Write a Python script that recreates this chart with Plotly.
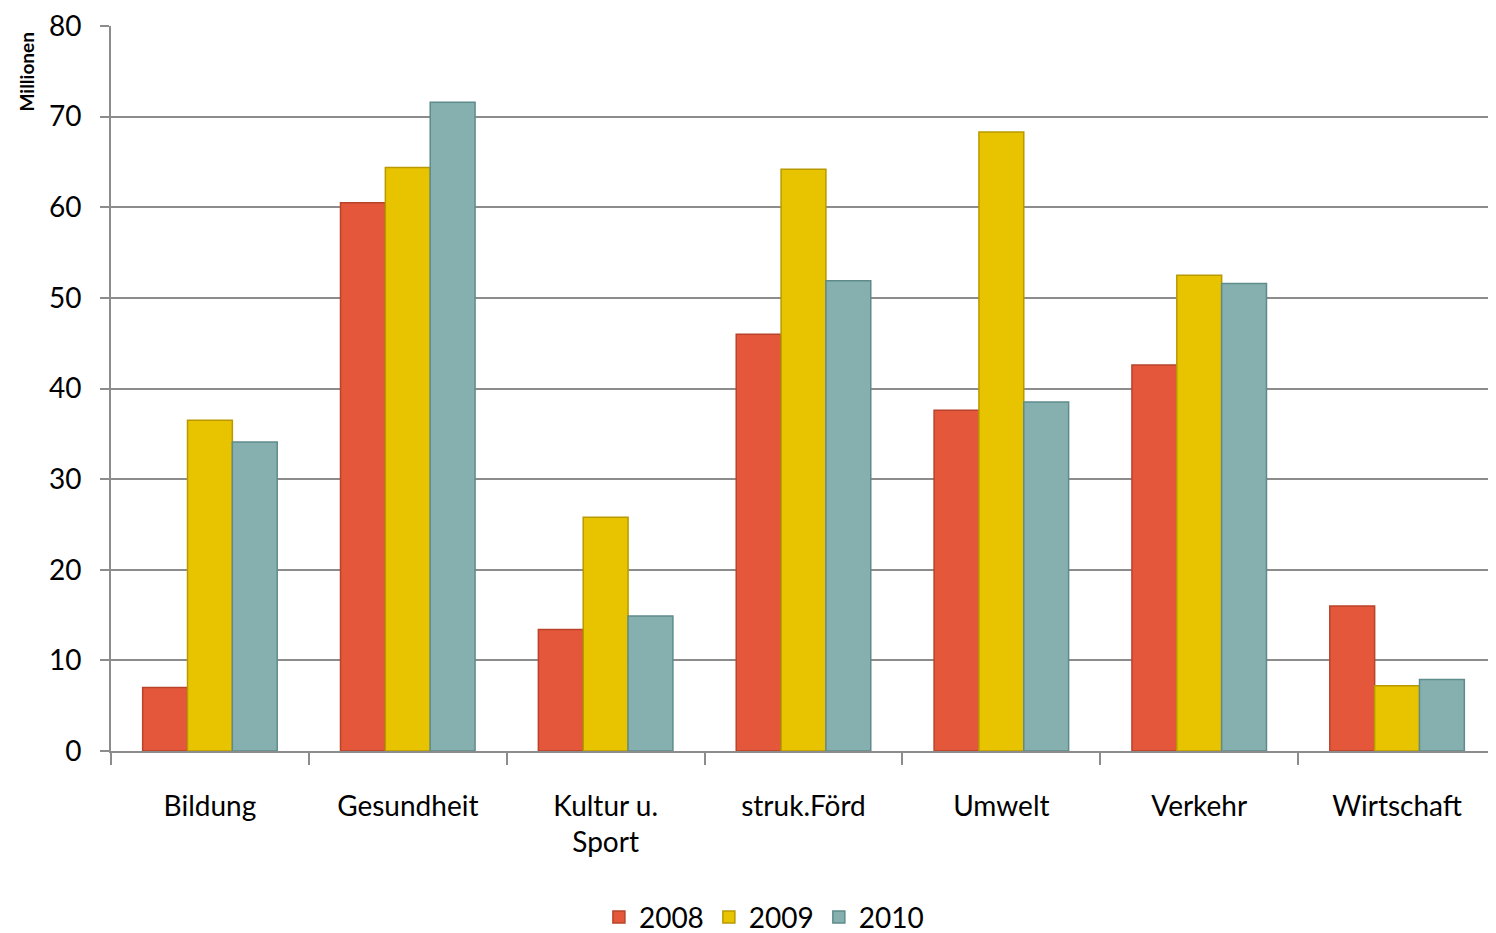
import plotly.graph_objects as go

# categories and values (Millionen)
categories = ['Bildung', 'Gesundheit', 'Kultur u.<br>Sport', 'struk.Förd',
              'Umwelt', 'Verkehr', 'Wirtschaft']
years = ['2008', '2009', '2010']
v2008 = [7.0, 60.5, 13.4, 46.0, 37.6, 42.6, 16.0]
v2009 = [36.5, 64.4, 25.8, 64.2, 68.3, 52.5, 7.2]
v2010 = [34.1, 71.6, 14.9, 51.9, 38.5, 51.6, 7.9]
y_ticks = [0, 10, 20, 30, 40, 50, 60, 70, 80]

colors = ['#E4573A', '#E8C300', '#86B0B0']
edges = ['#B8432A', '#B89A00', '#5F8B8B']

fig = go.Figure()
for name, vals, c, e in zip(years, [v2008, v2009, v2010], colors, edges):
    fig.add_trace(go.Bar(x=categories, y=vals, name=name,
                         marker=dict(color=c, line=dict(color=e, width=1.5))))

fig.update_layout(
    width=1488, height=925,
    barmode='group', bargap=0.32, bargroupgap=0,
    plot_bgcolor='white', paper_bgcolor='white',
    margin=dict(l=103, r=0, t=18, b=182),
    font=dict(family='Lato', size=28, color='black'),
    legend=dict(orientation='h', xref='container', x=0.508, xanchor='center',
                yref='container', y=0.017, yanchor='middle',
                font=dict(size=28), traceorder='normal'),
    xaxis=dict(showline=True, linecolor='#8c8c8c', linewidth=2,
               ticks='outside', tickson='boundaries', ticklen=12,
               tickcolor='#8c8c8c', tickwidth=2, showgrid=False,
               tickfont=dict(size=28), ticklabelstandoff=29,
               automargin=False),
    yaxis=dict(range=[0, 80], tickvals=y_ticks, showgrid=True,
               gridcolor='#8c8c8c', gridwidth=1.5, showline=True,
               linecolor='#8c8c8c', linewidth=2, ticks='outside',
               ticklen=9, tickcolor='#8c8c8c', tickwidth=2,
               zeroline=False, tickfont=dict(size=28),
               ticklabelstandoff=13, ticklabeloverflow='allow',
               automargin=False),
    annotations=[dict(text='<b>Millionen</b>', textangle=-90,
                      xref='paper', yref='paper', x=0, y=1,
                      xanchor='center', yanchor='top', xshift=-85, yshift=-5,
                      showarrow=False, font=dict(size=19))],
)

fig.write_html("out.html")
